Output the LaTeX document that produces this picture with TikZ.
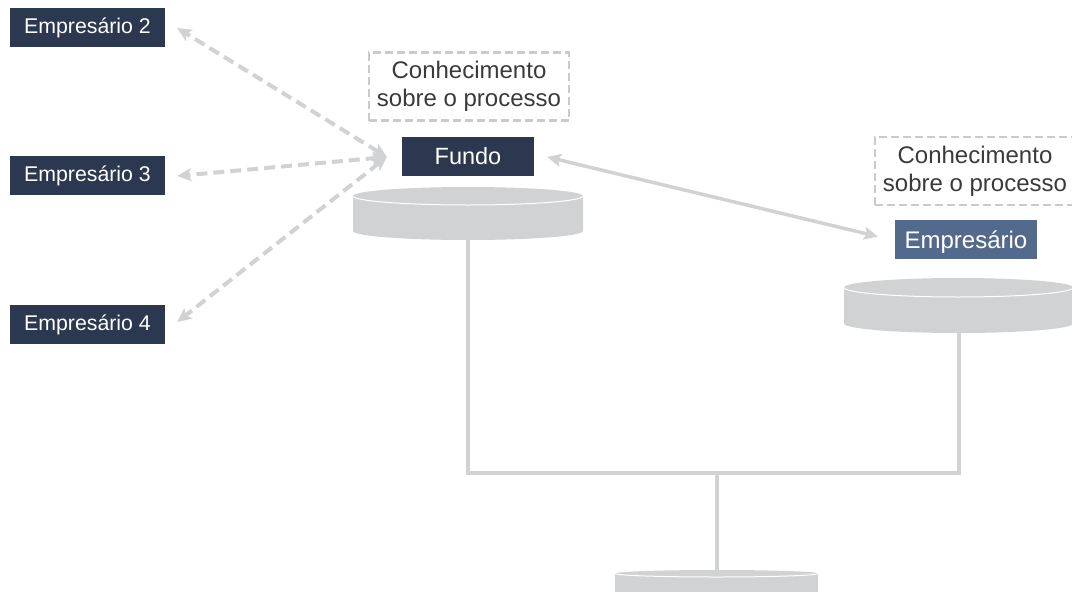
\documentclass[tikz,border=0pt]{standalone}
\usepackage{fontspec}
\setmainfont{Liberation Sans}
\usetikzlibrary{arrows.meta,calc}
\definecolor{navy}{HTML}{2B3850}
\definecolor{steel}{HTML}{546A8D}
\definecolor{lightgrey}{HTML}{D1D2D4}
\definecolor{dashgrey}{HTML}{CBCBCB}
\definecolor{textgrey}{HTML}{3A3A3A}
\tikzset{
  actor/.style={fill=navy, text=white, minimum width=155pt, minimum height=39pt,
    inner sep=0pt, font=\fontsize{21.3}{25}\selectfont},
  fundbox/.style={fill=navy, text=white, minimum width=132pt, minimum height=39pt,
    inner sep=0pt, font=\fontsize{23.5}{27}\selectfont},
  ownerbox/.style={fill=steel, text=white, minimum width=142pt, minimum height=39pt,
    inner sep=0pt, text depth=0pt, font=\fontsize{24}{27}\selectfont},
  knowbox/.style={draw=dashgrey, line width=2.5pt, dash pattern=on 8pt off 4pt,
    text=textgrey, minimum width=200pt, minimum height=68pt, inner sep=0pt,
    align=center, font=\fontsize{24}{28}\selectfont},
  dasharrow/.style={draw=lightgrey, line width=4pt, dash pattern=on 11pt off 6pt,
    {Stealth[length=14pt,width=13pt,inset=3pt]}-{Stealth[length=14pt,width=13pt,inset=3pt]}},
  solidarrow/.style={draw=lightgrey, line width=3.5pt,
    {Stealth[length=14pt,width=13pt,inset=3pt]}-{Stealth[length=14pt,width=13pt,inset=3pt]}},
  stem/.style={draw=lightgrey, line width=4pt},
  disc/.style={fill=lightgrey},
  rim/.style={draw=white, line width=1pt},
}
\begin{document}
\begin{tikzpicture}[x=1pt,y=-1pt]
\useasboundingbox (0,0) rectangle (1072,592);
\begin{scope}
\clip (0,0) rectangle (1072,592);

% discs (drawn as flat cylinders)
% fund disc
\fill[disc] (353,196) -- (583,196) -- (583,231) arc[start angle=0,end angle=180,x radius=115,y radius=9] -- cycle;
\fill[disc] (468,196) ellipse[x radius=115,y radius=9];
\draw[rim] (353,196) arc[start angle=180,end angle=360,x radius=115,y radius=-9];
\coordinate (fundbase) at (468,240);
% owner disc
\fill[disc] (844,287.5) -- (1073,287.5) -- (1073,323.5) arc[start angle=0,end angle=180,x radius=114.5,y radius=9.5] -- cycle;
\fill[disc] (958.5,287.5) ellipse[x radius=114.5,y radius=9.5];
\draw[rim] (844,287.5) arc[start angle=180,end angle=360,x radius=114.5,y radius=-9.5];
\coordinate (ownerbase) at (959,333);
% shared disc
\fill[disc] (615,573.5) -- (818,573.5) -- (818,600) -- (615,600) -- cycle;
\fill[disc] (716.5,573.5) ellipse[x radius=101.5,y radius=3.5];
\draw[rim] (615,573.5) arc[start angle=180,end angle=360,x radius=101.5,y radius=-3.5];
\coordinate (sharedtop) at (716.5,570);

% joining stems
\coordinate (joint) at (716.5,473);
\draw[stem] (fundbase) |- (joint) -| (ownerbase);
\draw[stem] (joint) -- (sharedtop);

% boxes
\node[actor] (e2) at (87.5,27.5) {Empresário 2};
\node[actor] (e3) at (87.5,175.5) {Empresário 3};
\node[actor] (e4) at (87.5,324.5) {Empresário 4};
\node[fundbox] (fundo) at (468,156.5) {Fundo};
\node[ownerbox] (owner) at (966,239.5) {Empresário};
\node[knowbox] (k1) at (469,86.5) {Conhecimento\\sobre o processo};
\node[knowbox] (k2) at (975,171) {Conhecimento\\sobre o processo};

% dashed links to the other entrepreneurs
\coordinate (hub) at ($(fundo.west)+(-15,0.5)$);
\coordinate (t2) at ($(e2.east)+(12,0.5)$);
\coordinate (t3) at ($(e3.east)+(12,0.5)$);
\coordinate (t4) at ($(e4.east)+(12,-2.5)$);
\draw[dasharrow] (hub) -- (t2);
\draw[dasharrow] (hub) -- (t3);
\draw[dasharrow] (hub) -- (t4);

% solid link between fund and entrepreneur
\coordinate (fa) at ($(fundo.east)+(13,0.5)$);
\coordinate (oa) at ($(owner.west)+(-17,-3)$);
\draw[solidarrow] (fa) -- (oa);
\end{scope}
\end{tikzpicture}
\end{document}
